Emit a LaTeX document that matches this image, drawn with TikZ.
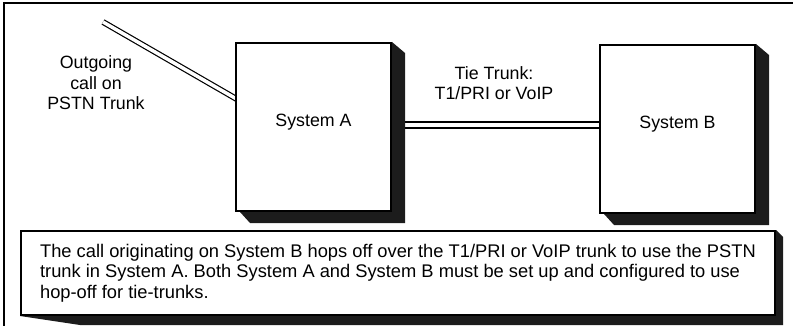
\documentclass[tikz,border=0pt]{standalone}
\usepackage{fontspec}
\setmainfont{Liberation Sans}
\usetikzlibrary{positioning, calc, backgrounds}
\definecolor{shadowgray}{RGB}{28,28,28}

\begin{document}
\begin{tikzpicture}[
    x=1pt, y=-1pt,
    font=\fontsize{17.8}{20.5}\selectfont,
    system/.style={draw, line width=2pt, fill=white, anchor=north west,
                   minimum width=155pt, minimum height=168pt, inner sep=0pt},
    note/.style={draw, line width=2pt, fill=white, anchor=north west,
                 font=\fontsize{18.3}{20.5}\selectfont,
                 align=left, minimum width=754pt, minimum height=84pt},
    lbl/.style={align=center},
    trunk/.style={double, line width=1.2pt, double distance=3.5pt},
    tie/.style={double, line width=1.8pt, double distance=4pt},
    boxshade/.style={fill=shadowgray},
    outerframe/.style={line width=2pt},
  ]
  \useasboundingbox (0,0) rectangle (793,326);

  % Outer frame
  \draw[outerframe] (793,3) -| (4,326);

  % Systems
  \node[system, label={[yshift=5pt]center:System A}] (sysA) at (235,42) {};
  \node[system, label={[yshift=5pt]center:System B}] (sysB) at (599,44) {};

  % Labels
  \coordinate (pstn) at (103,22);
  \node[lbl] (pstnlbl) at (96,83) {Outgoing\\call on\\PSTN Trunk};
  \node[lbl] (tielbl) at (494,83) {Tie Trunk:\\T1/PRI or VoIP};

  % Explanation
  \node[note] (note) at (20,230) {The call originating on System B hops off over the T1/PRI or VoIP trunk to use the PSTN\\
    trunk in System A. Both System A and System B must be set up and configured to use\\
    hop-off for tie-trunks.};

  \begin{scope}[on background layer]
    % Trunks
    \coordinate (tieA) at ($(sysA.east)+(0,-2)$);
    \draw[trunk, shorten >=-8pt] (pstn) -- ($(sysA.north west)!0.33!(sysA.south west)$);
    \draw[tie] (tieA) -- (tieA -| sysB.west);
    % Drop shadows
    \fill[boxshade] (sysA.north east) -- ++(13,11) |- ($(sysA.south west)+(15,11)$)
      -- ($(sysA.south west)+(5,0)$) -- cycle;
    \fill[boxshade] (sysB.north east) -- ++(13,11) |- ($(sysB.south west)+(15,11)$)
      -- ($(sysB.south west)+(5,0)$) -- cycle;
    \fill[boxshade] (note.north east) -- ++(7,7) |- ($(note.south west)+(60,9)$)
      -- (note.south west) -- cycle;
  \end{scope}
\end{tikzpicture}
\end{document}
